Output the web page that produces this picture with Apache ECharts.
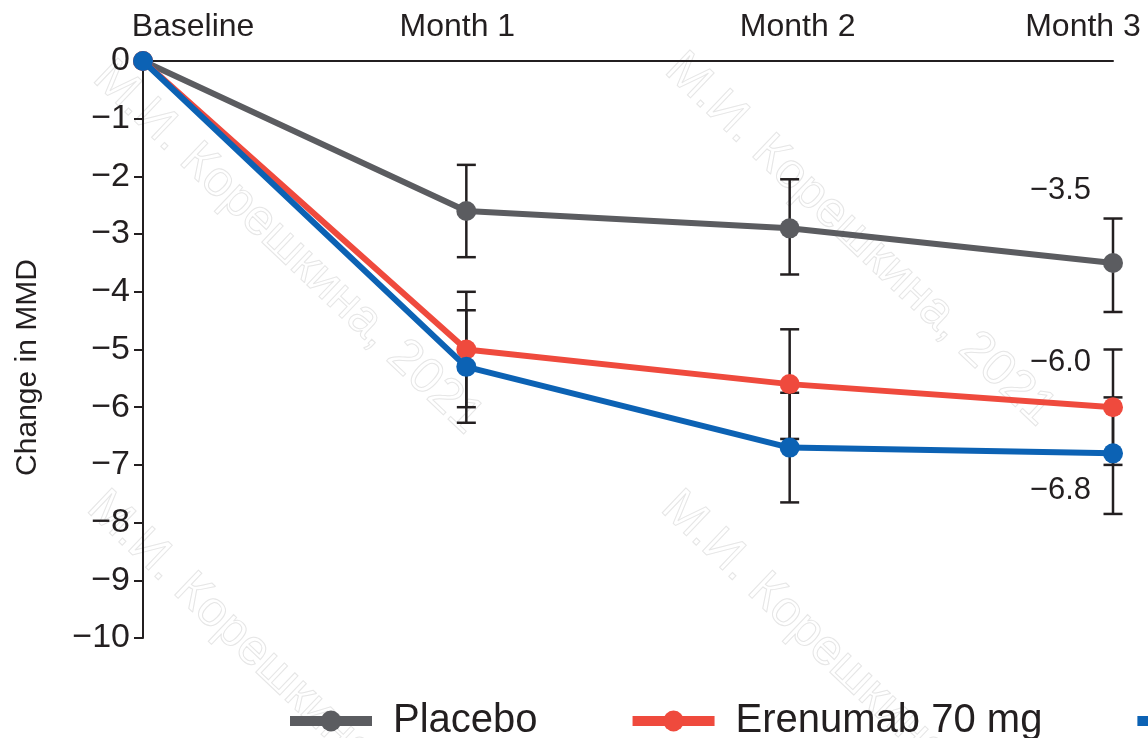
<!DOCTYPE html>
<html>
<head>
<meta charset="utf-8">
<script src="https://cdn.jsdelivr.net/npm/echarts@6/dist/echarts.min.js"></script>
<style>
html,body{margin:0;padding:0;background:#fff;}
#chart{width:1148px;height:738px;}
</style>
</head>
<body>
<div id="chart"></div>
<script>
// ---- data ----
const categories = ['Baseline', 'Month 1', 'Month 2', 'Month 3'];
const seriesNames = ['Placebo', 'Erenumab 70 mg', 'Erenumab 140 mg'];
const placebo = [0, -2.6, -2.9, -3.5];
const placeboLow = [0, -3.4, -3.7, -4.35];
const placeboHigh = [0, -1.8, -2.05, -2.73];
const ere70 = [0, -5.0, -5.6, -6.0];
const ere70Low = [0, -6.0, -6.55, -7.0];
const ere70High = [0, -4.0, -4.65, -5.0];
const ere140 = [0, -5.3, -6.7, -6.8];
const ere140Low = [0, -6.27, -7.65, -7.85];
const ere140High = [0, -4.32, -5.75, -5.83];
const yTicks = [0, -1, -2, -3, -4, -5, -6, -7, -8, -9, -10];
const watermarkText = 'М.И. Корешкина, 2021';

// ---- styles ----
const FONT = '"Liberation Sans", Arial, Helvetica, sans-serif';
const TXT = '#231f20';
const colors = ['#5b5c60', '#ef4a3d', '#0c62b4'];
const labelOffsets = [[0, -72], [0, -45], [0, 37]];
const minus = s => String(s).replace('-', '\u2212');

const chart = echarts.init(document.getElementById('chart'));

function errData(low, high) {
  return low.map((l, i) => [i, l, high[i]]);
}
function renderErr(params, api) {
  const x = api.value(0);
  if (api.value(1) === api.value(2)) return null;
  const pLow = api.coord([x, api.value(1)]);
  const pHigh = api.coord([x, api.value(2)]);
  const hw = 9.5;
  const st = { stroke: TXT, lineWidth: 2.5 };
  return {
    type: 'group',
    children: [
      { type: 'line', shape: { x1: pLow[0], y1: pLow[1], x2: pHigh[0], y2: pHigh[1] }, style: st },
      { type: 'line', shape: { x1: pLow[0] - hw, y1: pLow[1], x2: pLow[0] + hw, y2: pLow[1] }, style: st },
      { type: 'line', shape: { x1: pHigh[0] - hw, y1: pHigh[1], x2: pHigh[0] + hw, y2: pHigh[1] }, style: st }
    ]
  };
}

const means = [placebo, ere70, ere140];
const lows = [placeboLow, ere70Low, ere140Low];
const highs = [placeboHigh, ere70High, ere140High];

const series = [];
means.forEach((m, k) => {
  series.push({
    type: 'custom',
    name: seriesNames[k] + ' err',
    renderItem: renderErr,
    data: errData(lows[k], highs[k]),
    z: 1,
    silent: true,
    encode: { x: 0, y: [1, 2] }
  });
});
means.forEach((m, k) => {
  series.push({
    type: 'line',
    name: seriesNames[k],
    data: m.map((v, i) => i === m.length - 1 ? {
      value: v,
      label: {
        show: true, position: 'left', distance: 12, offset: labelOffsets[k],
        formatter: p => minus(p.value.toFixed(1)),
        fontFamily: FONT, fontSize: 31, color: TXT
      }
    } : v),
    symbol: 'circle',
    symbolSize: 20,
    lineStyle: { width: 6, color: colors[k] },
    itemStyle: { color: colors[k] },
    z: 3 + k,
    animation: false
  });
});

const wmPos = [[118, 52], [690, 44], [112, 482], [686, 482]];
const graphic = wmPos.map(p => ({
  type: 'text',
  x: p[0], y: p[1],
  rotation: -0.76,
  z: -1,
  silent: true,
  style: {
    text: watermarkText,
    font: '50px ' + FONT,
    fill: 'rgba(255,255,255,0)',
    stroke: '#e6e6e6',
    lineWidth: 1,
    textVerticalAlign: 'top'
  }
}));

const catRich = {
  b0: { fontFamily: FONT, fontSize: 32, color: TXT, padding: [0, 0, 0, 100] },
  b1: { fontFamily: FONT, fontSize: 32, color: TXT, padding: [0, 18, 0, 0] },
  b2: { fontFamily: FONT, fontSize: 32, color: TXT, padding: [0, 0, 0, 16] },
  b3: { fontFamily: FONT, fontSize: 32, color: TXT, padding: [0, 60, 0, 0] }
};

chart.setOption({
  animation: false,
  backgroundColor: '#ffffff',
  textStyle: { fontFamily: FONT },
  graphic: graphic,
  grid: { left: 143, right: 35, top: 61, bottom: 100, containLabel: false },
  legend: {
    data: seriesNames,
    left: 280,
    top: 696,
    width: 3000,
    itemWidth: 82,
    itemHeight: 26,
    itemGap: 90,
    textStyle: { fontFamily: FONT, fontSize: 40, color: TXT, padding: [0, 0, 0, 16] },
    lineStyle: { width: 10 },
    selectedMode: false
  },
  xAxis: {
    type: 'category',
    data: categories,
    position: 'top',
    boundaryGap: false,
    axisLine: { onZero: false, lineStyle: { color: TXT, width: 2 } },
    axisTick: { show: false },
    splitLine: { show: false },
    axisLabel: {
      margin: 18,
      formatter: (v, i) => '{b' + i + '|' + v + '}',
      rich: catRich
    }
  },
  yAxis: {
    type: 'value',
    min: -10,
    max: 0,
    interval: 1,
    name: 'Change in MMD',
    nameLocation: 'middle',
    nameRotate: 90,
    nameGap: 100,
    nameTextStyle: { fontFamily: FONT, fontSize: 30, color: TXT, padding: [0, 36, 0, 0] },
    axisLine: { show: true, lineStyle: { color: TXT, width: 2 } },
    axisTick: { show: true, length: 9, lineStyle: { color: TXT, width: 2 } },
    splitLine: { show: false },
    axisLabel: {
      fontFamily: FONT, fontSize: 34, color: TXT, margin: 13,
      formatter: v => yTicks.includes(v) ? minus(v) : ''
    }
  },
  series: series
});
</script>
</body>
</html>
